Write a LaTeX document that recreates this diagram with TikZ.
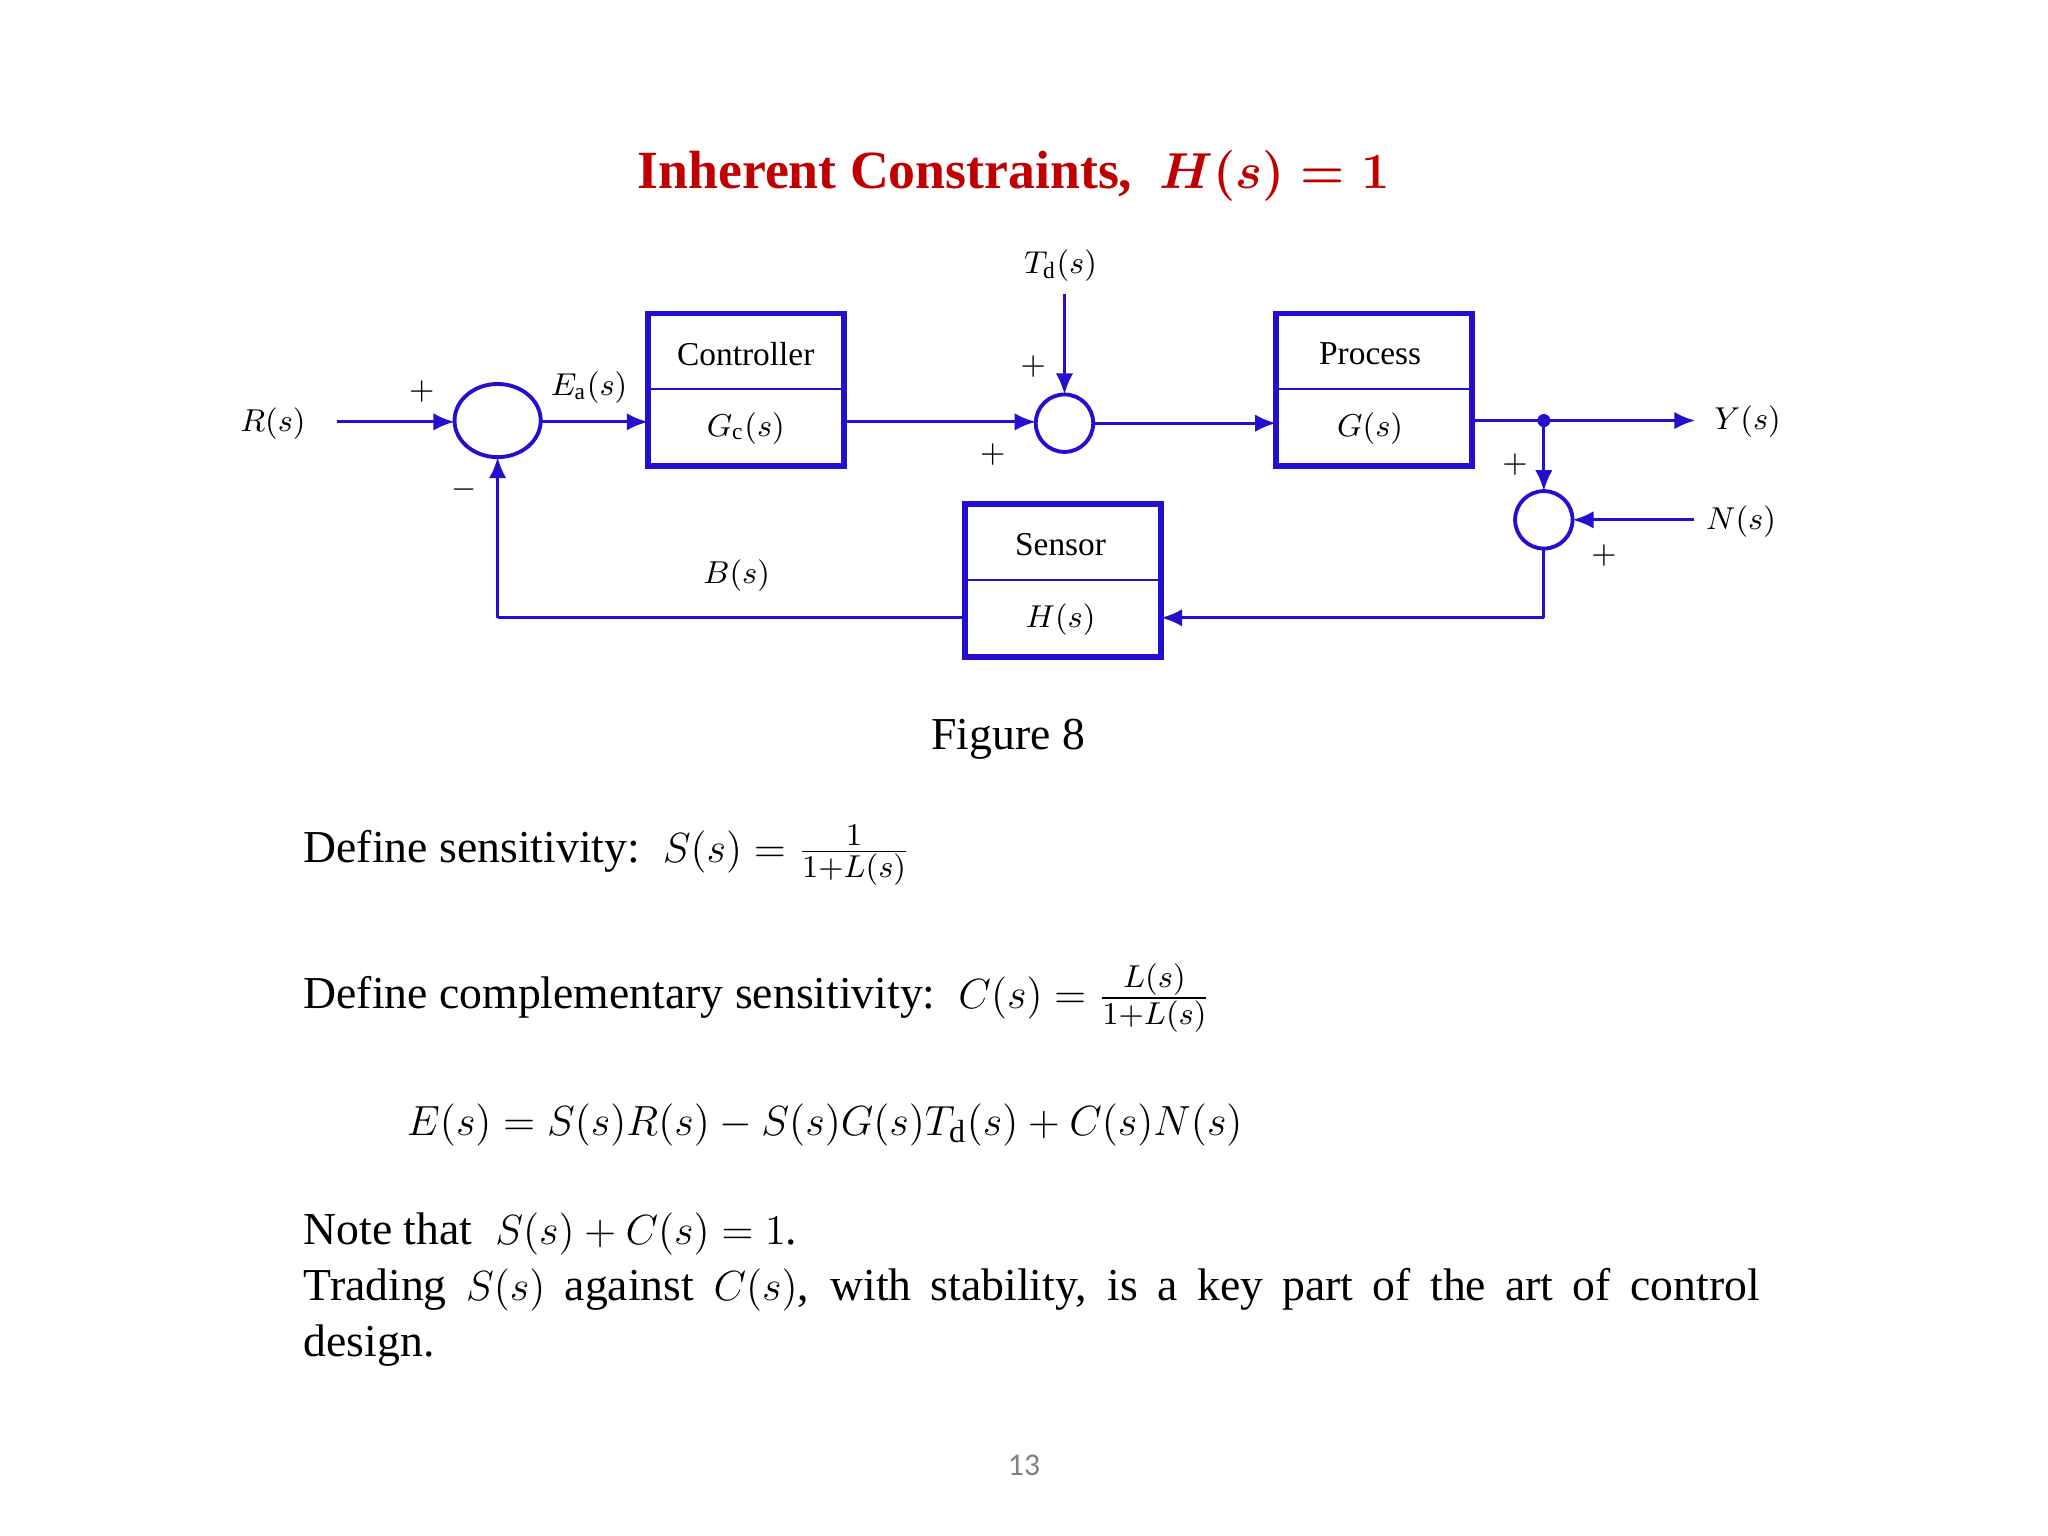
\documentclass[tikz,border=0pt]{standalone}
\usepackage{fontspec}
\usepackage{amsmath}
\setmainfont{Liberation Serif}
\newfontfamily\pgfont{Carlito}
\usetikzlibrary{arrows.meta}
\definecolor{bl}{RGB}{35,15,205}
\definecolor{tred}{RGB}{192,0,0}
\begin{document}
\begin{tikzpicture}[x=0.013061cm,y=-0.013061cm,
  blk/.style={draw=bl,line width=1.6pt,minimum width=150*0.013061cm,minimum height=117*0.013061cm,inner sep=0},
  ln/.style={draw=bl,line width=0.9pt},
  ar/.style={ln,-{Latex[length=6pt,width=5pt]}},
  lab/.style={font=\fontsize{9.5}{11}\selectfont},
  txt/.style={font=\fontsize{13}{15}\selectfont,anchor=west,inner sep=0}]
\useasboundingbox (0,0) rectangle (1568,1176);
\node[font=\fontsize{15.3}{18}\selectfont\bfseries,text=tred] (title) at (776,135) {Inherent Constraints,\ \ $\boldsymbol{H(s)=1}$};
% blocks
\node[blk] (ctl) at (571,298.5) {};
\draw[ln,line width=0.7pt] (496,298) -- (646,298);
\node[lab] (ctlt) at (571,271) {Controller};
\node[lab] (ctlm) at (571,328) {$G_{\mathrm{c}}(s)$};
\node[blk] (pro) at (1052,298.5) {};
\draw[ln,line width=0.7pt] (977,298) -- (1127,298);
\node[lab] (prot) at (1049,271) {Process};
\node[lab] (prom) at (1049,328) {$G(s)$};
\node[blk] (sen) at (814,444.5) {};
\draw[ln,line width=0.7pt] (739,444) -- (889,444);
\node[lab] (sent) at (812,417) {Sensor};
\node[lab] (senm) at (812,474) {$H(s)$};
% sums
\draw[ln,line width=1.1pt] (381,322) ellipse [x radius=33,y radius=28];
\draw[ln,line width=1.1pt] (815,324) circle [radius=22];
\draw[ln,line width=1.1pt] (1182,398) circle [radius=22];
% labels
\node[lab] (R) at (209,324) {$R(s)$};
\node[lab] (Ea) at (451,297) {$E_{\mathrm{a}}(s)$};
\node[lab] (Td) at (812,203) {$T_{\mathrm{d}}(s)$};
\node[lab] (Y) at (1338,323) {$Y(s)$};
\node[lab] (N) at (1333,399) {$N(s)$};
\node[lab] (B) at (564,441) {$B(s)$};
\foreach \p in {(323,300),(791,281),(760,348),(1160,356),(1228,425)} \node[lab] at \p {$+$};
\node[lab] at (355,375) {$-$};
% connectors
\draw[ar] (258,323) -- (348,323);
\draw[ar] (414,323) -- (496,323);
\draw[ar] (646,323) -- (793,323);
\draw[ar] (815,225) -- (815,302);
\draw[ar] (837,324) -- (977,324);
\draw[ar] (1127,322) -- (1298,322);
\fill[bl] (1182,322) circle [radius=5];
\draw[ar] (1182,322) -- (1182,376);
\draw[ar] (1297,398) -- (1204,398);
\draw[ln] (1182,420) -- (1182,473);
\draw[ar] (1182,473) -- (889,473);
\draw[ln] (739,473) -- (381,473);
\draw[ar] (381,473) -- (381,350);
% text
\node[font=\fontsize{13}{15}\selectfont] (fig) at (772,566) {Figure 8};
\node[txt] (t1) at (232,655) {Define sensitivity:\ \ $S(s)=\frac{1}{1+L(s)}$};
\node[txt] (t2) at (232,764) {Define complementary sensitivity:\ \ $C(s)=\frac{L(s)}{1+L(s)}$};
\node[txt,font=\fontsize{13}{16}\selectfont] (t3) at (311,861) {$E(s)=S(s)R(s)-S(s)G(s)T_{\mathrm{d}}(s)+C(s)N(s)$};
\node[txt,anchor=north west] (t4) at (232,928) {\parbox{14.56cm}{\baselineskip=16pt Note that\ \ $S(s)+C(s)=1$.\\ Trading $S(s)$ against $C(s)$, with stability, is a key part of the art of control\linebreak design.}};
\node[font=\pgfont\fontsize{9}{11}\selectfont,text=gray] (pg) at (784,1122) {13};
\end{tikzpicture}
\end{document}
